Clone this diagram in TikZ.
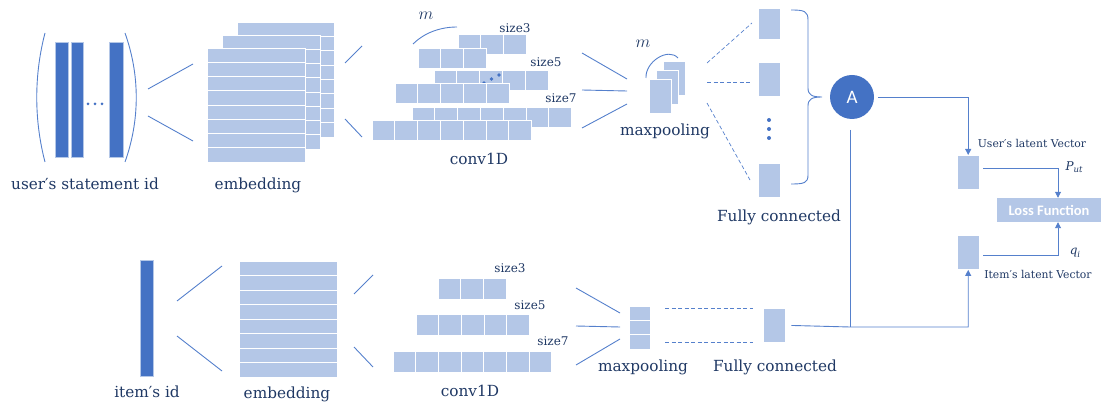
\documentclass[tikz,border=0pt]{standalone}
\usepackage{fontspec}
\setmainfont{DejaVu Serif}
\newfontfamily\uisans{Carlito}
\usetikzlibrary{arrows.meta}
\definecolor{barblue}{HTML}{4472C4}
\definecolor{cellblue}{HTML}{B4C7E7}
\definecolor{lineblue}{HTML}{5580CC}
\definecolor{inkblue}{HTML}{1F3864}

\tikzset{
  cell/.style={fill=cellblue, draw=white, line width=0.9pt},
  box/.style={rectangle, fill=cellblue, draw=white, line width=0.9pt, inner sep=0pt, anchor=north west},
  bar/.style={rectangle, fill=barblue, draw=white!60!barblue, line width=0.6pt, inner sep=0pt, anchor=north west},
  ln/.style={draw=lineblue, line width=0.9pt},
  dln/.style={draw=lineblue, line width=0.7pt, dash pattern=on 4pt off 2.5pt},
  arr/.style={draw=lineblue, line width=0.9pt, -{Triangle[length=6pt,width=6pt]}},
  lbl/.style={text=inkblue, font=\fontsize{15.3}{18}\selectfont, inner sep=0pt},
  sml/.style={text=inkblue, font=\fontsize{12}{14}\selectfont, inner sep=0pt},
  mth/.style={text=inkblue, font=\fontsize{12}{14}\selectfont\itshape, inner sep=0pt},
  dot/.style={fill=barblue, draw=none},
}

% a row of n square cells: x, y, n, width, height
\newcommand\cellrow[5]{%
  \foreach \k in {1,...,#3}{\path[cell] ({#1+(\k-1)*#4},#2) rectangle ++(#4,#5);}}
% an embedding matrix of stacked rows: x, y, width, height, rows
\newcommand\embedlayer[5]{%
  \foreach \k in {1,...,#5}{\path[cell] (#1,{#2+(\k-1)*#4/#5}) rectangle ++(#3,{#4/#5});}}
% italic subscript for the latent vector symbols
\newcommand\lowidx[1]{\raisebox{-2.5pt}{\fontsize{8.5}{9}\selectfont #1}}

\begin{document}
\begin{tikzpicture}[x=1pt,y=-1pt]
\useasboundingbox (0,0) rectangle (1101,403);

% ---------------- user branch ----------------
\node[bar, minimum width=13pt, minimum height=115pt] (ub1) at (55,42) {};
\node[bar, minimum width=12pt, minimum height=115pt] (ub2) at (71,42) {};
\node[bar, minimum width=14pt, minimum height=115pt] (ub3) at (109,42) {};
\foreach \x in {88,95,102} \fill[dot] (\x,104) circle (1.5);
\draw[ln] (45,33) .. controls (34,75) and (34,120) .. (45,162);
\draw[ln] (125,33) .. controls (140,75) and (140,120) .. (125,162);
\node[lbl] (ulab) at (85,184) {user′s statement id};

\draw[ln] (148,89) -- (193,64);
\draw[ln] (148,116) -- (193,141);

\embedlayer{237}{22}{97}{115}{8}
\embedlayer{222}{35}{98}{114}{8}
\embedlayer{207}{48}{98}{114}{8}
\node[lbl] (uemb) at (258,185) {embedding};

\draw[ln] (345,63) -- (362,46);
\draw[ln] (345,119) -- (362,137);

% convolution windows of sizes 3, 5, 7
\cellrow{458}{34}{3}{22.8}{20.5}
\cellrow{418}{48}{3}{22.8}{20.5}
\cellrow{434}{70}{5}{22.8}{20.5}
\foreach \p in {(484,83),(491.5,79),(499,75)} \fill[dot] \p circle (1.8);
\cellrow{395}{83}{5}{22.8}{20.5}
\cellrow{412}{107}{7}{22.8}{20.5}
\cellrow{372}{120}{7}{22.8}{20.5}
\draw[ln] (413,44) .. controls (424,33) and (440,27) .. (457,27);
\node[text=inkblue, font=\fontsize{16}{18}\selectfont, inner sep=0pt] (um1) at (426,16) {$m$};
\node[sml] (us3) at (515,28) {size3};
\node[sml] (us5) at (546,62) {size5};
\node[sml] (us7) at (561,98) {size7};
\node[lbl] (uconv) at (479,159) {conv1D};

\draw[ln] (582,53) -- (627,79);
\draw[ln] (582,90) -- (627,91);
\draw[ln] (582,128) -- (627,104);

\node[box, minimum width=21.5pt, minimum height=34pt] (up3) at (663,61) {};
\node[box, minimum width=21.5pt, minimum height=34pt] (up2) at (656,70) {};
\node[box, minimum width=21.5pt, minimum height=34pt] (up1) at (649,79) {};
\draw[ln] (646,78) .. controls (645,62) and (668,47) .. (678,58);
\node[text=inkblue, font=\fontsize{16}{18}\selectfont, inner sep=0pt] (um2) at (643,44) {$m$};
\node[lbl] (upool) at (665,131) {maxpooling};

\draw[dln] (707,63) -- (752,23);
\draw[dln] (707,82) -- (752,82);
\draw[dln] (707,103) -- (750,180);

\node[box, minimum width=22pt, minimum height=31pt] (fc1) at (758,8) {};
\node[box, minimum width=22pt, minimum height=34pt] (fc2) at (758,62) {};
\node[box, minimum width=22pt, minimum height=34pt] (fc3) at (758,163) {};
\foreach \y in {120,129,138} \fill[dot] (769,\y) circle (2);
\draw[ln] (791,10) .. controls (804,10) and (808,11) .. (808,20) -- (808,88)
          .. controls (808,95) and (812,97) .. (822,97)
          .. controls (812,97) and (808,99) .. (808,106) -- (808,175)
          .. controls (808,183) and (804,184) .. (791,184);
\node[lbl] (ufc) at (779,217) {Fully connected};

\node[circle, fill=barblue, minimum size=44pt, inner sep=0pt, text=white,
      font=\uisans\fontsize{19}{20}\selectfont] (A) at (852,97) {A};

% ---------------- item branch ----------------
\node[bar, minimum width=13pt, minimum height=116pt] (ib) at (140,260) {};
\node[lbl] (ilab) at (147,392) {item′s id};

\draw[ln] (177,301) -- (222,266);
\draw[ln] (177,336) -- (222,371);

\embedlayer{239}{261}{98}{116}{8}
\node[lbl] (iemb) at (287,394) {embedding};

\draw[ln] (354,294) -- (373,275);
\draw[ln] (354,347) -- (373,367);

\cellrow{438}{278}{3}{22.7}{21}
\cellrow{416}{314}{5}{22.7}{21}
\cellrow{393}{351}{7}{22.7}{21}
\node[sml] (is3) at (510,268) {size3};
\node[sml] (is5) at (530,305) {size5};
\node[sml] (is7) at (553,341) {size7};
\node[lbl] (iconv) at (470,391) {conv1D};

\draw[ln] (576,288) -- (620,313);
\draw[ln] (576,326) -- (620,327);
\draw[ln] (576,365) -- (620,339);

\embedlayer{629}{306}{21.5}{43}{3}
\node[lbl] (ipool) at (643,367) {maxpooling};

\draw[dln] (665,308) -- (753,308);
\draw[dln] (665,342) -- (753,342);

\node[box, minimum width=21.5pt, minimum height=34pt] (ifc) at (763,308) {};
\node[lbl] (ifcl) at (775,367) {Fully connected};

% ---------------- latent vectors and loss ----------------
\node[box, minimum width=21.5pt, minimum height=34pt] (uvec) at (957,155) {};
\node[box, minimum width=21.5pt, minimum height=34pt] (ivec) at (957,235) {};
\node[rectangle, fill=cellblue, inner sep=0pt, minimum width=104pt, minimum height=24pt,
      text=white, font=\uisans\bfseries\fontsize{14.5}{15}\selectfont] (loss) at (1049,210) {Loss Function};

\node[sml, font=\fontsize{10.8}{12}\selectfont] (uvl) at (1032,143) {User′s latent Vector};
\node[sml, font=\fontsize{10.8}{12}\selectfont] (ivl) at (1038,274) {Item′s latent Vector};
\node[mth] (put) at (1074,167) {P\lowidx{ut}};
\node[mth] (qi) at (1075,253) {q\lowidx{i}};

\draw[arr] (878,97) -- (A.east -| uvec.north) -- (uvec.north);
\coordinate (join) at (850,327);
\draw[ln] (850,130) -- (join);
\draw[arr] ([xshift=6pt]ifc.east) -- (join) -- (join -| ivec.south) -- (ivec.south);
\draw[arr] (983,168) -- (1058,168) -- ([xshift=9pt]loss.north);
\draw[arr] (983,255) -- (1058,255) -- ([xshift=9pt]loss.south);
\end{tikzpicture}
\end{document}
